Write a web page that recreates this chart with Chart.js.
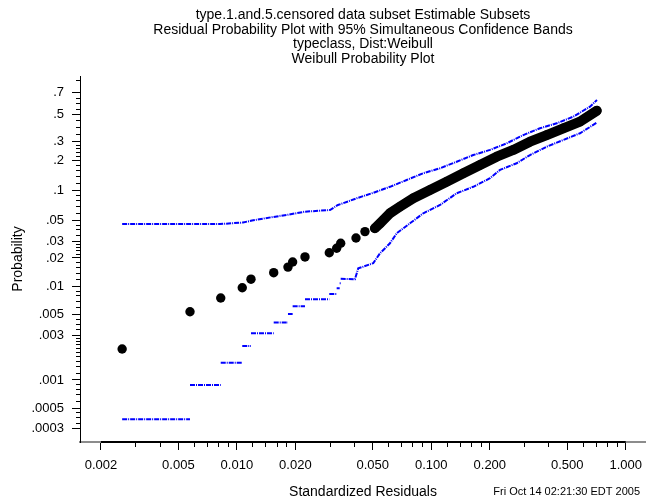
<!DOCTYPE html>
<html>
<head>
<meta charset="utf-8">
<script src="https://cdn.jsdelivr.net/npm/chart.js@4.4.0/dist/chart.umd.min.js"></script>
<style>
html,body{margin:0;padding:0;background:#fff;}
</style>
</head>
<body>
<canvas id="wplot" width="646" height="503"></canvas>
<script>
var titleLines = [
	"type.1.and.5.censored data subset Estimable Subsets",
	"Residual Probability Plot with 95% Simultaneous Confidence Bands",
	"typeclass, Dist:Weibull",
	"Weibull Probability Plot"
];
var footNote = "Fri Oct 14 02:21:30 EDT 2005";

// sorted residuals and their plotting positions (sparse low end)
var resLow  = [0.00257, 0.00574, 0.00826, 0.01066, 0.01182, 0.01547, 0.01832, 0.01936, 0.02241, 0.02988, 0.03261, 0.0342, 0.0410, 0.0456];
var probLow = [0.00214, 0.00536, 0.0075, 0.00966, 0.0119, 0.01395, 0.0160, 0.0181, 0.0205, 0.0227, 0.0253, 0.0286, 0.0325, 0.0379];
// dense run, markers overlap into a band
var resHigh  = [0.0513, 0.0545, 0.0613, 0.0690, 0.0808, 0.0985, 0.120, 0.1462, 0.1781, 0.2171, 0.2642, 0.322, 0.3925, 0.4775, 0.582, 0.710];
var probHigh = [0.0411, 0.0463, 0.0589, 0.0689, 0.0841, 0.1021, 0.1237, 0.150, 0.181, 0.217, 0.251, 0.298, 0.341, 0.389, 0.440, 0.532];

// upper simultaneous band
var upperRes  = [0.00257, 0.00819, 0.01075, 0.01196, 0.01534, 0.01832, 0.02241, 0.03013, 0.03311, 0.03515, 0.04133, 0.0501, 0.0613, 0.0747, 0.0907, 0.1109, 0.1351, 0.1644, 0.2004, 0.2443, 0.2974, 0.3624, 0.4416, 0.5374, 0.6553, 0.7117];
var upperProb = [0.0455, 0.0455, 0.0472, 0.0495, 0.0539, 0.0569, 0.0612, 0.0637, 0.0718, 0.0747, 0.0841, 0.0953, 0.110, 0.1287, 0.150, 0.168, 0.1945, 0.225, 0.251, 0.288, 0.341, 0.389, 0.427, 0.481, 0.568, 0.628];

// lower band: flat steps at the low end, then a running line
var lowerStepEdge = [0.00257, 0.00574, 0.00826, 0.01066, 0.01182, 0.01547, 0.01832, 0.01936, 0.02241, 0.02988, 0.03261, 0.0338, 0.0342];
var lowerStepProb = [0.00038, 0.000884, 0.00153, 0.00231, 0.00315, 0.0041, 0.00507, 0.00612, 0.00727, 0.00829, 0.00953, 0.01077];
var lowerRes  = [0.0342, 0.0405, 0.0421, 0.0503, 0.0545, 0.0613, 0.0664, 0.0777, 0.0910, 0.1109, 0.1351, 0.1644, 0.2004, 0.2257, 0.275, 0.322, 0.3925, 0.4775, 0.582, 0.710];
var lowerProb = [0.0120, 0.0119, 0.0155, 0.0176, 0.0224, 0.0286, 0.0364, 0.0463, 0.0589, 0.0718, 0.0946, 0.110, 0.134, 0.162, 0.188, 0.225, 0.269, 0.309, 0.353, 0.432];

var xMajor = [0.002, 0.005, 0.01, 0.02, 0.05, 0.1, 0.2, 0.5, 1];
var xMinor = [0.003, 0.004, 0.006, 0.007, 0.008, 0.009, 0.012, 0.014, 0.016, 0.018, 0.03, 0.04,
	0.06, 0.07, 0.08, 0.09, 0.12, 0.14, 0.16, 0.18, 0.3, 0.4, 0.6, 0.7, 0.8, 0.9];
var yMajor  = [0.0003, 0.0005, 0.001, 0.003, 0.005, 0.01, 0.02, 0.03, 0.05, 0.1, 0.2, 0.3, 0.5, 0.7];
var yLabels = [".0003", ".0005", ".001", ".003", ".005", ".01", ".02", ".03", ".05", ".1", ".2", ".3", ".5", ".7"];
var yMinor = [0.00035, 0.0004, 0.00045, 0.0006, 0.0007, 0.0008, 0.0009,
	0.0012, 0.0014, 0.0016, 0.0018, 0.002, 0.0022, 0.0024, 0.0026, 0.0028, 0.0035, 0.004, 0.0045,
	0.006, 0.007, 0.008, 0.009, 0.012, 0.014, 0.016, 0.018, 0.022, 0.024, 0.026, 0.028,
	0.035, 0.04, 0.045, 0.06, 0.07, 0.08, 0.09, 0.12, 0.14, 0.16, 0.18, 0.22, 0.24, 0.26, 0.28,
	0.35, 0.4, 0.45, 0.55, 0.6, 0.65, 0.8];

var xMin = 0.00156, xMax = 1.272;
var pMin = 0.000217, pMax = 0.8323;

var FONT = '"Liberation Sans", Arial, sans-serif';

// weibull probability paper: y = log(-log(1-p))
function weib(p){
	return Math.log(-Math.log(1 - p));
}

function pts(xs, ps){
	var out = [];
	for(var i = 0;i < xs.length;i++){
		out.push({x: xs[i], y: weib(ps[i])});
	}
	return out;
}

var lowerPts = [];
for(var k = 0;k < lowerStepProb.length;k++){
	lowerPts.push({x: lowerStepEdge[k], y: weib(lowerStepProb[k])});
	lowerPts.push({x: lowerStepEdge[k+1], y: weib(lowerStepProb[k])});
	lowerPts.push({x: lowerStepEdge[k+1], y: null});
}
lowerPts = lowerPts.concat(pts(lowerRes, lowerProb));

var minorTicks = {
	id: 'minorTicks',
	afterDraw: function(chart){
		var c = chart.ctx;
		var xs = chart.scales.x, ys = chart.scales.y;
		var axY = Math.round(xs.top);
		c.save();
		// dark stretch of the x axis between the end labels
		c.strokeStyle = '#000';
		c.lineWidth = 2;
		c.beginPath();
		c.moveTo(xs.getPixelForValue(xMajor[0]), axY);
		c.lineTo(xs.getPixelForValue(xMajor[xMajor.length-1]), axY);
		c.stroke();
		c.lineWidth = 1;
		c.beginPath();
		xMinor.forEach(function(v){
			var px = Math.round(xs.getPixelForValue(v)) + 0.5;
			c.moveTo(px, axY);
			c.lineTo(px, axY + 5);
		});
		yMinor.forEach(function(p){
			var py = Math.round(ys.getPixelForValue(weib(p))) + 0.5;
			c.moveTo(ys.right - 4, py);
			c.lineTo(ys.right, py);
		});
		c.stroke();
		c.restore();
	}
};

var headText = {
	id: 'headText',
	afterDraw: function(chart){
		var c = chart.ctx, a = chart.chartArea;
		var mid = (a.left + a.right) / 2;
		c.save();
		c.fillStyle = '#000';
		c.font = '14px ' + FONT;
		c.textAlign = 'center';
		c.textBaseline = 'middle';
		for(var i = 0;i < titleLines.length;i++){
			c.fillText(titleLines[i], mid, 15 + i * 14.7);
		}
		c.font = '11px ' + FONT;
		c.textAlign = 'right';
		c.fillText(footNote, chart.width - 6, 492);
		c.restore();
	}
};

var bandStyle = {
	showLine: true,
	borderColor: '#0000ff',
	borderWidth: 2,
	borderDash: [5, 1, 1, 1],
	pointRadius: 0,
	fill: false,
	spanGaps: false
};

var ctx = document.getElementById('wplot').getContext('2d');
var wb = new Chart(ctx, {
	type: 'scatter',
	data: {
		datasets: [
		{
			label: 'residuals',
			data: pts(resLow, probLow),
			backgroundColor: '#000',
			borderColor: '#000',
			pointRadius: 4.7,
			pointBorderWidth: 0
		},
		{
			label: 'residuals dense',
			data: pts(resHigh, probHigh),
			showLine: true,
			borderColor: '#000',
			borderWidth: 10,
			borderCapStyle: 'round',
			borderJoinStyle: 'round',
			backgroundColor: '#000',
			pointRadius: 4.7,
			pointBorderWidth: 0
		},
		Object.assign({label: 'upper', data: pts(upperRes, upperProb)}, bandStyle),
		Object.assign({label: 'lower', data: lowerPts}, bandStyle)
		]
	},
	options: {
		responsive: false,
		animation: false,
		layout: {autoPadding: false, padding: {top: 76, left: 0, right: 0, bottom: 0}},
		plugins: {
			legend: {display: false},
			tooltip: {enabled: false}
		},
		scales: {
			x: {
				type: 'logarithmic',
				min: xMin,
				max: xMax,
				afterBuildTicks: function(s){
					s.ticks = xMajor.map(function(v){ return {value: v}; });
				},
				afterFit: function(s){
					s.height = 61;
					s.paddingLeft = 0;
					s.paddingRight = 0;
				},
				ticks: {
					autoSkip: false,
					maxRotation: 0,
					padding: 8,
					color: '#000',
					font: {family: FONT, size: 13},
					callback: function(v){ return Number(v).toFixed(3); }
				},
				grid: {drawOnChartArea: false, tickLength: 8, tickColor: '#000', tickWidth: 1},
				border: {display: true, color: '#8c8c8c', width: 2},
				title: {
					display: true,
					text: 'Standardized Residuals',
					color: '#000',
					font: {family: FONT, size: 14},
					padding: {top: 0, bottom: 2}
				}
			},
			y: {
				type: 'linear',
				min: weib(pMin),
				max: weib(pMax),
				afterBuildTicks: function(s){
					s.ticks = yMajor.map(function(p){ return {value: weib(p)}; });
				},
				afterFit: function(s){
					s.width = 80;
					s.paddingTop = 0;
					s.paddingBottom = 0;
				},
				ticks: {
					autoSkip: false,
					padding: 8,
					color: '#000',
					font: {family: FONT, size: 13},
					callback: function(v, i){ return yLabels[i]; }
				},
				grid: {drawOnChartArea: false, tickLength: 8, tickColor: '#000', tickWidth: 1},
				border: {display: true, color: '#000', width: 1},
				title: {
					display: true,
					text: 'Probability',
					color: '#000',
					font: {family: FONT, size: 14},
					padding: {top: 10, bottom: 0}
				}
			}
		}
	},
	plugins: [minorTicks, headText]
});
</script>
</body>
</html>
